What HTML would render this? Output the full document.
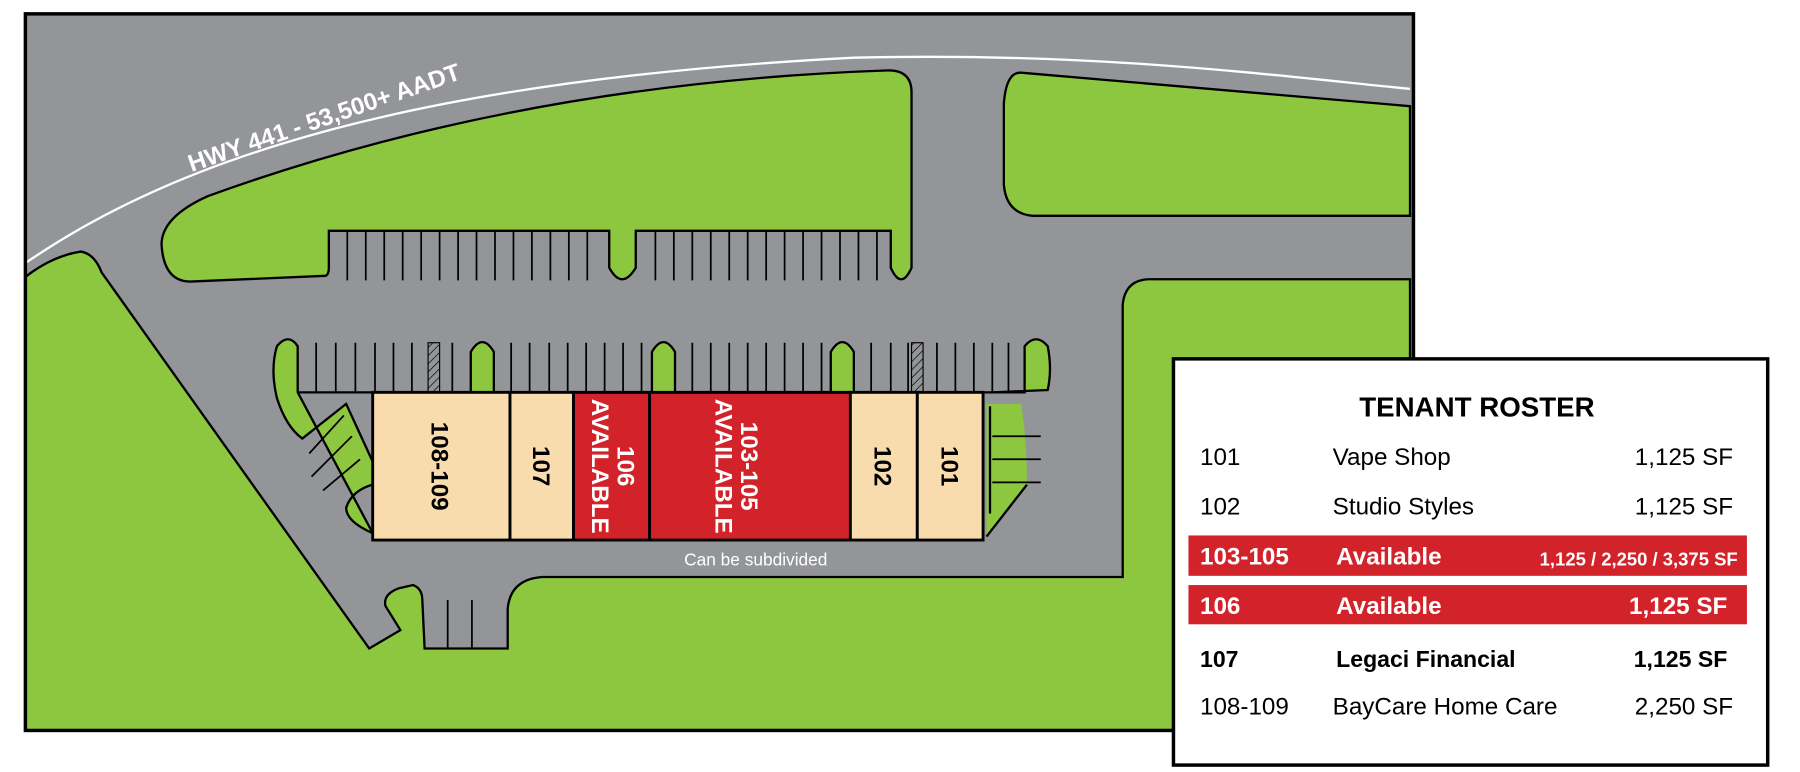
<!DOCTYPE html>
<html><head><meta charset="utf-8"><style>
html,body{margin:0;padding:0;background:#fff;}
svg{display:block;}
text{font-family:"Liberation Sans",sans-serif;}
</style></head><body>
<svg width="1800" height="772" viewBox="0 0 1560 669" preserveAspectRatio="none" xmlns="http://www.w3.org/2000/svg">
<defs>
<pattern id="hatch" width="5" height="5" patternUnits="userSpaceOnUse" patternTransform="rotate(45)">
<line x1="0" y1="0" x2="0" y2="5" stroke="#000" stroke-width="1.2"/></pattern>
</defs>
<rect x="0" y="0" width="1560" height="669" fill="#fff"/>
<rect x="22" y="12" width="1203" height="621" fill="#939598"/>
<path d="M22,228 C150,140 350,70 740,50 C950,45 1100,65 1222,77" fill="none" stroke="#fff" stroke-width="2"/>
<path d="M165,244 L282,239 Q285,238 285,232 L285,200 L528,200 L528,232 Q539,252 551,232 L551,200 L772,200 L772,232 Q781,252 790,232 L790,80 Q790,61 770,61 Q450,72 180,170 Q140,188 140,212 Q142,244 165,244 Z" fill="#8dc63f" stroke="#000" stroke-width="2"/>
<path d="M885,63 L1222,92 L1222,187 L895,187 Q872,185 870,160 L870,90 Q872,62 885,63 Z" fill="#8dc63f" stroke="#000" stroke-width="2"/>
<path d="M22,240 Q45,222 70,218 Q82,220 88,236 L320,562 L347,546 L334,525 Q332,515 345,510 L358,507 Q366,510 366,520 L368,562 L440,562 L440,528 Q442,502 470,500 L973,500 L973,264 Q975,243 995,242 L1222,242 L1222,633 L22,633 Z" fill="#8dc63f" stroke="#000" stroke-width="2"/>
<path d="M258,340 L258,300 Q250,288 240,300 Q234,320 240,345 Q248,370 262,380 L300,350 L323,400 L323,420 Q305,425 300,440 Q300,452 323,462 Z" fill="#8dc63f" stroke="#000" stroke-width="2"/>
<path d="M888,340 L888,300 Q898,288 908,300 Q912,320 908,338 L860,340 Z" fill="#8dc63f" stroke="#000" stroke-width="2"/>
<path d="M855,350 L885,350 Q890,380 890,420 L855,465 Z" fill="#8dc63f" stroke="none"/>
<path d="M890,420 L855,465" stroke="#000" stroke-width="2"/>
<path d="M858,352 L858,445" stroke="#000" stroke-width="2"/>
<path d="M408,340 L408,305 Q418,288 428,305 L428,340 Z" fill="#8dc63f" stroke="#000" stroke-width="2"/>
<path d="M565,340 L565,305 Q575,288 585,305 L585,340 Z" fill="#8dc63f" stroke="#000" stroke-width="2"/>
<path d="M720,340 L720,305 Q730,288 740,305 L740,340 Z" fill="#8dc63f" stroke="#000" stroke-width="2"/>
<g stroke="#000" stroke-width="1.5">
<path d="M301,200V243M317,200V243M333,200V243M349,200V243M365,200V243M381,200V243M397,200V243M413,200V243M429,200V243M445,200V243M461,200V243M477,200V243M493,200V243M509,200V243"/>
<path d="M568,200V243M584,200V243M600,200V243M616,200V243M632,200V243M648,200V243M664,200V243M680,200V243M696,200V243M712,200V243M728,200V243M744,200V243M760,200V243"/>
<path d="M274,297V340M291,297V340M308,297V340M325,297V340M341,297V340M357,297V340M392,297V340M443,297V340M459,297V340M476,297V340M492,297V340M508,297V340M524,297V340M540,297V340M556,297V340M600,297V340M616,297V340M632,297V340M648,297V340M664,297V340M680,297V340M696,297V340M712,297V340M755,297V340M772,297V340M787,297V340M812,297V340M828,297V340M844,297V340M860,297V340M874,297V340"/>
<path d="M258,340H888" stroke-width="2"/>
<path d="M860,378H902M860,398H902M860,418H902"/>
<path d="M268,393L298,360M270,413L305,378M280,425L312,398"/>
<path d="M388,520V562M409,520V562"/>
</g>
<rect x="371" y="297" width="10" height="43" fill="url(#hatch)" stroke="#000" stroke-width="1"/>
<rect x="790" y="297" width="10" height="43" fill="url(#hatch)" stroke="#000" stroke-width="1"/>
<g stroke="#000" stroke-width="2.5">
<rect x="323" y="340" width="119" height="128" fill="#f9dcae"/>
<rect x="442" y="340" width="55" height="128" fill="#f9dcae"/>
<rect x="497" y="340" width="66" height="128" fill="#d2232a"/>
<rect x="563" y="340" width="174" height="128" fill="#d2232a"/>
<rect x="737" y="340" width="58" height="128" fill="#f9dcae"/>
<rect x="795" y="340" width="57" height="128" fill="#f9dcae"/>
</g>
<g font-weight="bold" font-size="21">
<text transform="translate(374,404) rotate(90)" text-anchor="middle">108-109</text>
<text transform="translate(462,404) rotate(90)" text-anchor="middle">107</text>
<text transform="translate(535,404) rotate(90)" text-anchor="middle" fill="#fff">106</text>
<text transform="translate(513,404) rotate(90)" text-anchor="middle" fill="#fff">AVAILABLE</text>
<text transform="translate(642,404) rotate(90)" text-anchor="middle" fill="#fff">103-105</text>
<text transform="translate(620,404) rotate(90)" text-anchor="middle" fill="#fff">AVAILABLE</text>
<text transform="translate(758,404) rotate(90)" text-anchor="middle">102</text>
<text transform="translate(816,404) rotate(90)" text-anchor="middle">101</text>
</g>
<text x="655" y="490" font-size="15" fill="#fff" text-anchor="middle">Can be subdivided</text>
<text transform="translate(166,149) rotate(-19)" font-size="21" font-weight="bold" fill="#fff">HWY 441 - 53,500+ AADT</text>
<rect x="22" y="12" width="1203" height="621" fill="none" stroke="#000" stroke-width="3"/>
<rect x="1017" y="311" width="515" height="352" fill="#fff" stroke="#000" stroke-width="3"/>
<text x="1280" y="361" font-size="24" font-weight="bold" text-anchor="middle">TENANT ROSTER</text>
<rect x="1030" y="464" width="484" height="35" fill="#d2232a"/>
<rect x="1030" y="507" width="484" height="34" fill="#d2232a"/>
<g font-size="21">
<text x="1040" y="403">101</text><text x="1155" y="403">Vape Shop</text><text x="1502" y="403" text-anchor="end">1,125 SF</text>
<text x="1040" y="446">102</text><text x="1155" y="446">Studio Styles</text><text x="1502" y="446" text-anchor="end">1,125 SF</text>
<g fill="#fff" font-weight="bold">
<text x="1040" y="489">103-105</text><text x="1158" y="489">Available</text><text x="1506" y="490" text-anchor="end" font-size="16">1,125 / 2,250 / 3,375 SF</text>
<text x="1040" y="532">106</text><text x="1158" y="532">Available</text><text x="1497" y="532" text-anchor="end">1,125 SF</text>
</g>
<g font-weight="bold" font-size="20">
<text x="1040" y="578">107</text><text x="1158" y="578">Legaci Financial</text><text x="1497" y="578" text-anchor="end">1,125 SF</text>
</g>
<text x="1040" y="619">108-109</text><text x="1155" y="619">BayCare Home Care</text><text x="1502" y="619" text-anchor="end">2,250 SF</text>
</g>
</svg>
</body></html>
